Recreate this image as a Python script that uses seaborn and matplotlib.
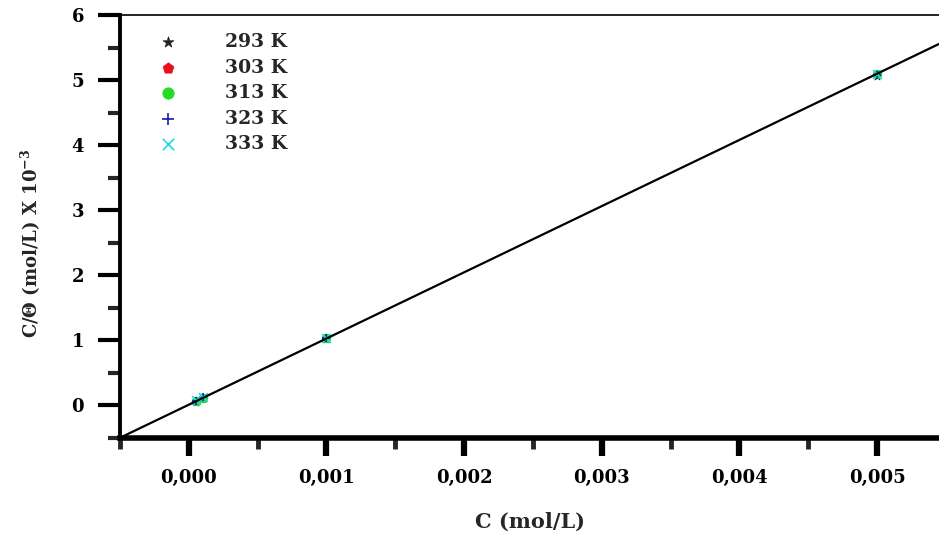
import numpy as np
import pandas as pd
import matplotlib
matplotlib.use("Agg")
import matplotlib.pyplot as plt
import seaborn as sns

# Langmuir isotherm data: C (mol/L) vs C/theta (x10^-3) at five temperatures
conc = [0.00005, 0.0001, 0.001, 0.005]
temps = ["293 K", "303 K", "313 K", "323 K", "333 K"]
c_theta_293 = [0.060, 0.110, 1.020, 5.070]
c_theta_303 = [0.065, 0.115, 1.030, 5.090]
c_theta_313 = [0.070, 0.120, 1.030, 5.100]
c_theta_323 = [0.075, 0.125, 1.040, 5.080]
c_theta_333 = [0.080, 0.130, 1.040, 5.090]

# Fitted Langmuir line
fit_slope = 1017.0
fit_intercept = 0.012

x_ticks = [0.000, 0.001, 0.002, 0.003, 0.004, 0.005]
x_ticklabels = ["0,000", "0,001", "0,002", "0,003", "0,004", "0,005"]
y_ticks = [0, 1, 2, 3, 4, 5, 6]

series = [c_theta_293, c_theta_303, c_theta_313, c_theta_323, c_theta_333]

sns.set_style("ticks")
FONT = ["DejaVu Serif", "Liberation Serif"]
plt.rcParams["font.family"] = FONT
plt.rcParams["font.weight"] = "bold"
plt.rcParams["mathtext.fontset"] = "dejavuserif"

fig = plt.figure(figsize=(9.39, 5.35), dpi=100)
ax = fig.add_axes([0.1278, 0.1813, 0.8722, 0.7907])

xmin, xmax = -0.0005, 0.00545
line_x = np.array([xmin, xmax])
line_df = pd.DataFrame({"C": line_x, "CT": fit_slope * line_x + fit_intercept})
sns.lineplot(data=line_df, x="C", y="CT", ax=ax, color="black", lw=1.6,
             legend=False, zorder=3)

colors = ["#222222", "#e8101a", "#22dd22", "#1a1aaa", "#22d8e8"]
marker_list = ["*", "p", "o", "+", "x"]
for t, vals, col, mk in zip(temps, series, colors, marker_list):
    d = pd.DataFrame({"C": conc, "CT": vals})
    filled = mk not in ("+", "x")
    sns.scatterplot(data=d, x="C", y="CT", ax=ax, color=col, marker=mk,
                    s=40, label=t, zorder=2,
                    linewidth=(0.5 if filled else 1.2),
                    edgecolor=(col if filled else None))

ax.set_xlim(xmin, xmax)
ax.set_ylim(-0.5, 6)
ax.set_xticks(x_ticks)
ax.set_xticklabels(x_ticklabels)
ax.set_yticks(y_ticks)
ax.set_xticks(np.arange(-0.0005, 0.0055, 0.001), minor=True)
ax.set_yticks(np.arange(-0.5, 6.0, 1.0), minor=True)

ax.spines["left"].set_linewidth(2.8)
ax.spines["bottom"].set_linewidth(4.0)
ax.spines["top"].set_linewidth(1.2)
for side in ["left", "bottom", "top"]:
    ax.spines[side].set_color("black")
ax.spines["right"].set_visible(False)

ax.tick_params(axis="x", which="major", direction="out", length=13, width=4.5,
               labelsize=13, pad=9, colors="black")
ax.tick_params(axis="x", which="minor", direction="out", length=8, width=3.5)
ax.tick_params(axis="y", which="major", direction="out", length=16, width=3.0,
               labelsize=13, pad=10, colors="black")
ax.tick_params(axis="y", which="minor", direction="out", length=9, width=3.0)
ax.tick_params(top=False, right=False, which="both")
for lab in ax.get_xticklabels() + ax.get_yticklabels():
    lab.set_fontweight("bold")

ax.set_xlabel("C (mol/L)", fontsize=15, fontweight="bold", labelpad=18)
ax.set_ylabel("C/Θ (mol/L) X 10$^{\\mathbf{-3}}$", fontsize=13,
              fontweight="bold")
ax.yaxis.set_label_coords(-0.094, 0.459)

handles, labels = ax.get_legend_handles_labels()
leg = ax.legend(handles, labels, loc="upper left", bbox_to_anchor=(0.02, 0.988),
                frameon=False, handletextpad=2.0, labelspacing=0.40,
                prop={"family": FONT, "weight": "bold", "size": 13.5},
                markerscale=1.3, borderaxespad=0.3)

fig.savefig("out.png", dpi=100, facecolor="white")
